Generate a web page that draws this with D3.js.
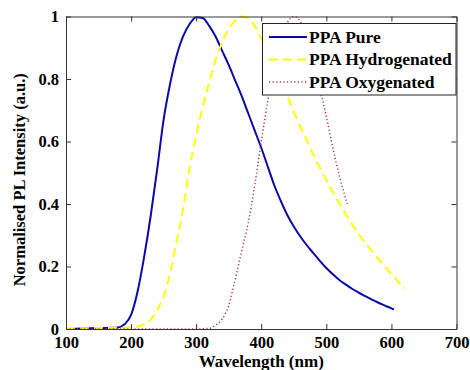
<!DOCTYPE html>
<html>
<head>
<meta charset="utf-8">
<script src="https://cdn.jsdelivr.net/npm/d3@7"></script>
<style>
  body { margin: 0; background: #fff; }
  text { font-family: "Liberation Serif", "Times New Roman", serif; font-weight: bold; }
</style>
</head>
<body>
<div id="chart"></div>
<script>
// wavelength (nm) and normalised intensity
const pureX = [100, 150, 180, 190, 200, 210, 220, 230, 240, 250, 260, 270, 280, 290, 300, 310, 320, 330, 340, 350, 360, 370, 380, 390, 400, 410, 420, 430, 440, 450, 460, 470, 480, 490, 500, 510, 520, 530, 540, 550, 560, 570, 580, 590, 600, 604];
const pureY = [0, 0.003, 0.005, 0.015, 0.045, 0.12, 0.23, 0.36, 0.51, 0.67, 0.785, 0.875, 0.937, 0.976, 0.998, 0.995, 0.97, 0.935, 0.89, 0.845, 0.795, 0.745, 0.69, 0.635, 0.58, 0.52, 0.46, 0.41, 0.365, 0.328, 0.296, 0.268, 0.243, 0.218, 0.195, 0.175, 0.157, 0.142, 0.128, 0.116, 0.105, 0.094, 0.084, 0.075, 0.066, 0.063];

const hydX = [100, 150, 200, 210, 220, 230, 240, 250, 260, 270, 280, 290, 300, 310, 320, 330, 340, 350, 360, 370, 380, 390, 400, 410, 420, 430, 440, 450, 460, 470, 480, 490, 500, 510, 520, 530, 540, 550, 560, 570, 580, 590, 600, 610, 620];
const hydY = [0.002, 0.003, 0.005, 0.008, 0.015, 0.03, 0.06, 0.105, 0.18, 0.28, 0.385, 0.515, 0.62, 0.71, 0.79, 0.862, 0.918, 0.96, 0.987, 1.0, 0.995, 0.97, 0.93, 0.89, 0.84, 0.79, 0.745, 0.695, 0.648, 0.603, 0.558, 0.516, 0.476, 0.438, 0.402, 0.367, 0.334, 0.303, 0.275, 0.249, 0.224, 0.2, 0.176, 0.152, 0.13];

const oxyX = [100, 200, 300, 320, 330, 340, 350, 360, 370, 380, 390, 400, 410, 420, 430, 440, 450, 460, 470, 480, 490, 500, 510, 520, 530, 532];
const oxyY = [0, 0, 0, 0.002, 0.012, 0.032, 0.075, 0.16, 0.25, 0.34, 0.46, 0.6, 0.73, 0.84, 0.93, 0.98, 1.0, 0.985, 0.94, 0.86, 0.77, 0.68, 0.58, 0.49, 0.415, 0.4];

const seriesNames = ["PPA Pure", "PPA Hydrogenated", "PPA Oxygenated"];
const xTicks = [100, 200, 300, 400, 500, 600, 700];
const yTicks = [0, 0.2, 0.4, 0.6, 0.8, 1];

const width = 470, height = 370;
const margin = {top: 16.5, right: 13.5, bottom: 41, left: 66};

const svg = d3.select("#chart").append("svg")
    .attr("width", width)
    .attr("height", height);

const x = d3.scaleLinear().domain([100, 700]).range([margin.left, width - margin.right]);
const y = d3.scaleLinear().domain([0, 1]).range([height - margin.bottom, margin.top]);

const series = [
    {name: seriesNames[0], xs: pureX, ys: pureY, color: "#0a0aa8", width: 2, dash: null},
    {name: seriesNames[1], xs: hydX, ys: hydY, color: "#ffff00", width: 2, dash: "9,5"},
    {name: seriesNames[2], xs: oxyX, ys: oxyY, color: "#b03a3a", width: 1.5, dash: "1.2,2.4"}
];

const line = d3.line()
    .x(d => x(d[0]))
    .y(d => y(d[1]))
    .curve(d3.curveMonotoneX);

// curves
series.forEach(s => {
    svg.append("path")
        .datum(s.xs.map((v, i) => [v, s.ys[i]]))
        .attr("fill", "none")
        .attr("stroke", s.color)
        .attr("stroke-width", s.width)
        .attr("stroke-dasharray", s.dash)
        .attr("d", line);
});

// axes, ticks inside, box all round
const tickLen = 5;
svg.append("g")
    .attr("transform", `translate(0,${y(0)})`)
    .call(d3.axisBottom(x).tickValues(xTicks).tickSizeInner(-tickLen).tickSizeOuter(0).tickPadding(7));
svg.append("g")
    .attr("transform", `translate(${x(100)},0)`)
    .call(d3.axisLeft(y).tickValues(yTicks).tickFormat(d3.format("~g")).tickSizeInner(-tickLen).tickSizeOuter(0).tickPadding(7));
svg.append("g")
    .attr("transform", `translate(0,${y(1)})`)
    .call(d3.axisTop(x).tickValues(xTicks).tickFormat("").tickSizeInner(-tickLen).tickSizeOuter(0));
svg.append("g")
    .attr("transform", `translate(${x(700)},0)`)
    .call(d3.axisRight(y).tickValues(yTicks).tickFormat("").tickSizeInner(-tickLen).tickSizeOuter(0));

svg.selectAll(".domain, .tick line").attr("stroke", "#333");
svg.selectAll(".tick text")
    .attr("font-size", 16.5)
    .attr("fill", "#000");

// axis titles
svg.append("text")
    .attr("x", (x(100) + x(700)) / 2)
    .attr("y", 367)
    .attr("text-anchor", "middle")
    .attr("font-size", 17)
    .text("Wavelength (nm)");

svg.append("text")
    .attr("transform", `translate(25,${(y(0) + y(1)) / 2 + 7}) rotate(-90)`)
    .attr("text-anchor", "middle")
    .attr("font-size", 16.5)
    .text("Normalised PL Intensity (a.u.)");

// legend
const lg = svg.append("g");
lg.append("rect")
    .attr("x", 262.5).attr("y", 23.5)
    .attr("width", 193.5).attr("height", 71.5)
    .attr("fill", "#fff")
    .attr("stroke", "#222")
    .attr("stroke-width", 1);

series.forEach((s, i) => {
    const yy = 37 + i * 22.5;
    lg.append("line")
        .attr("x1", 269).attr("x2", 307)
        .attr("y1", yy).attr("y2", yy)
        .attr("stroke", s.color)
        .attr("stroke-width", s.width)
        .attr("stroke-dasharray", s.dash);
    lg.append("text")
        .attr("x", 309)
        .attr("y", yy + 5.5)
        .attr("font-size", 17.5)
        .text(s.name);
});
</script>
</body>
</html>
